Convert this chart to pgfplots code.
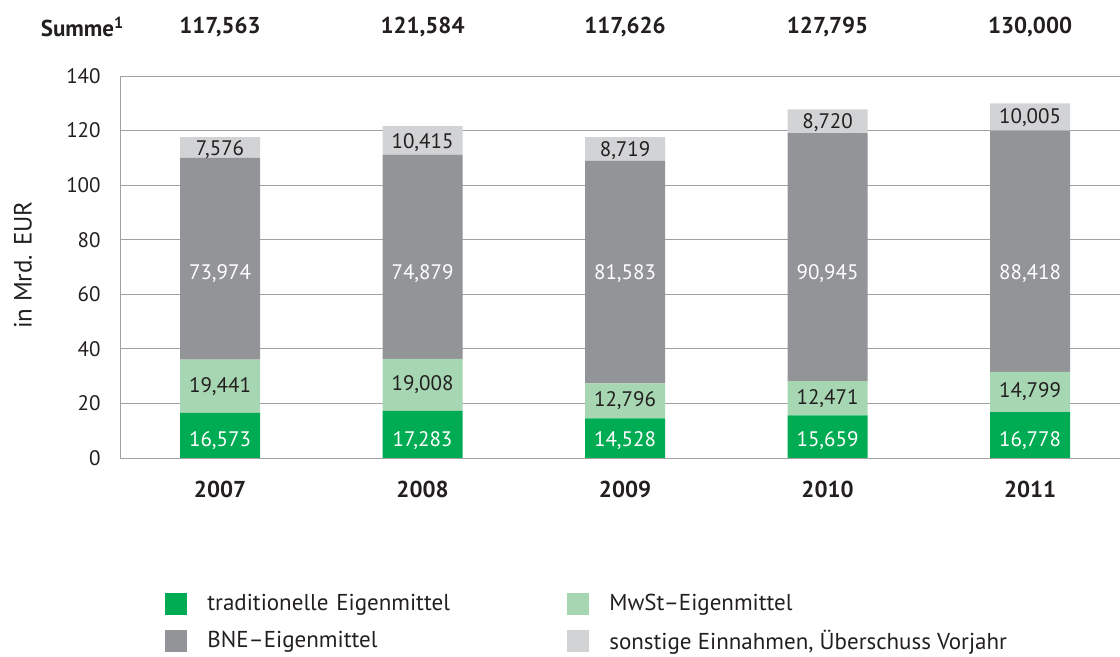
\documentclass[border=0pt]{standalone}
\usepackage{fontspec}
\setmainfont{PT Sans}
\usepackage{pgfplots}
\pgfplotsset{compat=1.18}
\definecolor{tradgreen}{RGB}{0,172,83}
\definecolor{mwstgreen}{RGB}{166,214,178}
\definecolor{bnegray}{RGB}{147,148,152}
\definecolor{sonstgray}{RGB}{209,211,212}
\definecolor{gridgray}{RGB}{160,160,162}
\definecolor{textdark}{RGB}{35,31,32}
\newcommand\bigf{\fontsize{11.5pt}{13pt}\selectfont}
\begin{document}
\fontsize{10.5pt}{12.6pt}\selectfont
\begin{tikzpicture}
\useasboundingbox (0,0) rectangle (560pt,328.5pt);
\begin{axis}[
  at={(60pt,99.5pt)}, anchor=south west,
  scale only axis, width=500pt, height=191pt,
  ybar stacked, bar width=40pt,
  xmin=-0.494, xmax=4.444, ymin=0, ymax=140,
  xtick={0,1,2,3,4}, xticklabels={2007,2008,2009,2010,2011},
  xticklabel style={font=\bigf\bfseries, yshift=-8pt},
  ytick={0,20,...,140},
  yticklabel style={xshift=-6pt},
  tick label style={text=textdark},
  major tick length=0pt,
  axis x line*=bottom, axis y line*=left,
  axis line style={draw=gridgray},
  ymajorgrids, grid style={draw=gridgray},
  ylabel={in Mrd. EUR},
  ylabel style={at={(axis description cs:-0.097,0.505)}, anchor=center,
    text=textdark, font=\fontsize{12.5pt}{15pt}\selectfont},
  /pgf/number format/assume math mode=true,
  clip=false,
  legend columns=2,
  legend image code/.code={\fill[#1] (0pt,-5.5pt) rectangle (11pt,5.5pt);},
  legend style={at={(axis description cs:0.045,-0.346)}, anchor=north west,
    draw=none, fill=none, inner sep=0pt, row sep=4pt,
    nodes={inner sep=2pt, anchor=west, text=textdark, font=\bigf},
    /tikz/every odd column/.style={column sep=8pt}},
  legend cell align=left,
]
\addplot[fill=tradgreen, draw=none] coordinates {(0,16.573) (1,17.283) (2,14.528) (3,15.659) (4,16.778)};
\addlegendentry[text width=178pt]{traditionelle Eigenmittel}
\addplot[fill=mwstgreen, draw=none] coordinates {(0,19.441) (1,19.008) (2,12.796) (3,12.471) (4,14.799)};
\addlegendentry{MwSt–Eigenmittel}
\addplot[fill=bnegray, draw=none] coordinates {(0,73.974) (1,74.879) (2,81.583) (3,90.945) (4,88.418)};
\addlegendentry[text width=178pt]{BNE–Eigenmittel}
\addplot[fill=sonstgray, draw=none] coordinates {(0,7.576) (1,10.415) (2,8.719) (3,8.720) (4,10.005)};
\addlegendentry{sonstige Einnahmen, Überschuss Vorjahr}

% Ankerpunkte fuer die Werte in den Balken
\coordinate (g0) at (axis cs:0,6.5);
\coordinate (g1) at (axis cs:1,6.5);
\coordinate (g2) at (axis cs:2,6.5);
\coordinate (g3) at (axis cs:3,6.5);
\coordinate (g4) at (axis cs:4,6.5);
\coordinate (m0) at (axis cs:0,26.29);
\coordinate (m1) at (axis cs:1,26.79);
\coordinate (m2) at (axis cs:2,20.93);
\coordinate (m3) at (axis cs:3,21.89);
\coordinate (m4) at (axis cs:4,24.18);
\coordinate (b0) at (axis cs:0,67.5);
\coordinate (b1) at (axis cs:1,67.5);
\coordinate (b2) at (axis cs:2,67.5);
\coordinate (b3) at (axis cs:3,67.5);
\coordinate (b4) at (axis cs:4,67.5);
\coordinate (s0) at (axis cs:0,113.2);
\coordinate (s1) at (axis cs:1,115.6);
\coordinate (s2) at (axis cs:2,112.8);
\coordinate (s3) at (axis cs:3,123.0);
\coordinate (s4) at (axis cs:4,124.8);

% Summenzeile
\node[font=\bigf\bfseries, text=textdark] at (axis cs:-0.679,158) {Summe\textsuperscript{1}};
\node[font=\bigf\bfseries, text=textdark] at (axis cs:0,158) {117,563};
\node[font=\bigf\bfseries, text=textdark] at (axis cs:1,158) {121,584};
\node[font=\bigf\bfseries, text=textdark] at (axis cs:2,158) {117,626};
\node[font=\bigf\bfseries, text=textdark] at (axis cs:3,158) {127,795};
\node[font=\bigf\bfseries, text=textdark] at (axis cs:4,158) {130,000};
\end{axis}
\node[white] at (g0) {16,573};
\node[white] at (g1) {17,283};
\node[white] at (g2) {14,528};
\node[white] at (g3) {15,659};
\node[white] at (g4) {16,778};
\node[text=textdark] at (m0) {19,441};
\node[text=textdark] at (m1) {19,008};
\node[text=textdark] at (m2) {12,796};
\node[text=textdark] at (m3) {12,471};
\node[text=textdark] at (m4) {14,799};
\node[white] at (b0) {73,974};
\node[white] at (b1) {74,879};
\node[white] at (b2) {81,583};
\node[white] at (b3) {90,945};
\node[white] at (b4) {88,418};
\node[text=textdark] at (s0) {7,576};
\node[text=textdark] at (s1) {10,415};
\node[text=textdark] at (s2) {8,719};
\node[text=textdark] at (s3) {8,720};
\node[text=textdark] at (s4) {10,005};
\end{tikzpicture}
\end{document}
